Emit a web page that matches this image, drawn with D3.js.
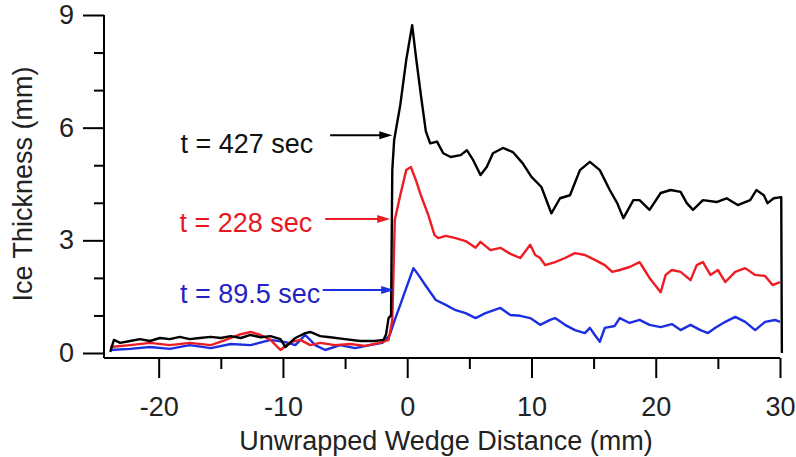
<!DOCTYPE html>
<html lang="en">
<head>
<meta charset="UTF-8">
<script src="https://d3js.org/d3.v7.min.js"></script>
<style>
body { margin: 0; background: #fff; }
text { font-family: "Liberation Sans", Arial, sans-serif; }
.axis path, .axis line { stroke: #000; stroke-width: 2px; }
.axis text { font-size: 27px; fill: #222; }
</style>
</head>
<body>
<div id="chart"></div>
<script>
// wedge distance (mm) and ice thickness (mm)
const blackX = [-23.9,-23.6,-23.1,-22.3,-21.5,-20.7,-19.9,-19.1,-18.3,-17.5,-16.7,-15.8,-15.0,-14.2,-13.4,-12.6,-11.8,-11.0,-10.2,-9.8,-9.0,-8.2,-7.8,-7.0,-6.2,-5.0,-3.8,-2.6,-1.9,-1.7,-1.5,-1.3,-1.2,-1.05,-0.56,-0.08,0.4,0.7,1.1,1.5,1.85,2.4,2.9,3.5,4.3,4.8,5.3,5.9,6.4,6.9,7.7,8.5,9.3,10.0,10.8,11.6,12.3,13.1,13.9,14.7,15.5,16.3,16.9,17.4,18.2,18.7,19.5,20.4,21.2,22.0,22.5,23.0,23.8,24.9,25.7,26.6,27.6,28.1,28.7,29.0,29.5,30.1,30.15];
const blackY = [0.03,0.35,0.27,0.32,0.37,0.32,0.40,0.37,0.43,0.37,0.40,0.43,0.40,0.45,0.40,0.48,0.42,0.45,0.37,0.16,0.40,0.53,0.56,0.45,0.42,0.37,0.32,0.32,0.35,0.50,0.93,1.00,4.87,5.67,6.60,7.80,8.73,7.90,6.87,5.90,5.58,5.63,5.32,5.22,5.27,5.40,5.14,4.74,4.95,5.32,5.46,5.35,5.05,4.69,4.42,3.72,4.12,4.20,4.87,5.09,4.87,4.34,3.99,3.59,4.07,4.07,3.81,4.26,4.34,4.29,3.99,3.81,4.07,4.02,4.12,3.94,4.07,4.34,4.20,3.99,4.12,4.15,0.0];

const redX = [-23.9,-22.3,-20.7,-19.1,-17.5,-15.8,-14.6,-13.4,-12.6,-11.8,-11.0,-10.2,-9.4,-8.6,-7.8,-7.0,-5.8,-4.6,-3.4,-2.2,-1.5,-1.2,-1.1,-1.0,-0.56,-0.08,0.3,0.7,1.1,1.7,2.2,2.5,3.1,3.9,4.7,5.5,5.9,6.7,7.5,8.3,9.1,9.9,10.3,10.7,11.1,11.9,12.7,13.5,14.3,15.1,15.9,16.5,17.1,17.9,18.7,19.1,19.5,20.4,20.8,21.3,22.0,22.8,23.3,23.8,24.4,25.0,25.6,26.4,27.2,28.0,28.8,29.4,30.0];
const redY = [0.16,0.21,0.27,0.21,0.27,0.21,0.35,0.50,0.56,0.48,0.35,0.08,0.29,0.35,0.21,0.27,0.21,0.24,0.19,0.27,0.35,0.88,2.20,3.54,4.20,4.87,4.95,4.60,4.20,3.67,3.14,3.06,3.12,3.06,2.98,2.80,2.96,2.74,2.80,2.64,2.53,2.88,2.61,2.53,2.34,2.42,2.53,2.66,2.61,2.48,2.34,2.16,2.21,2.29,2.42,2.21,2.00,1.62,2.08,2.21,2.16,1.94,2.34,2.42,2.08,2.21,1.89,2.16,2.26,2.08,2.05,1.81,1.89];

const blueX = [-23.9,-22.3,-20.7,-19.1,-17.5,-15.8,-14.2,-12.6,-11.0,-9.8,-9.0,-8.2,-7.4,-6.6,-5.4,-4.2,-3.0,-2.0,-1.4,-1.0,-0.56,-0.08,0.5,0.9,1.45,2.3,3.1,3.9,4.7,5.5,6.3,7.5,8.3,9.1,9.9,10.7,11.5,11.9,12.7,13.5,14.3,14.7,15.1,15.5,15.9,16.7,17.1,17.9,18.7,19.5,20.4,21.3,22.0,22.8,23.6,24.2,24.8,25.6,26.4,27.2,28.0,28.8,29.6,30.0];
const blueY = [0.08,0.11,0.16,0.11,0.21,0.13,0.24,0.21,0.35,0.29,0.21,0.48,0.21,0.08,0.21,0.13,0.21,0.27,0.48,0.88,1.28,1.73,2.26,2.08,1.81,1.41,1.28,1.14,1.06,0.93,1.06,1.20,1.01,0.99,0.93,0.75,0.88,0.93,0.75,0.61,0.53,0.67,0.48,0.30,0.67,0.72,0.93,0.80,0.88,0.75,0.69,0.77,0.61,0.75,0.61,0.53,0.67,0.83,0.96,0.83,0.61,0.83,0.88,0.83];

// labels with arrow: text end x, text y, arrow from x, arrow to x, arrow y
const labelText = ["t = 427 sec", "t = 228 sec", "t = 89.5 sec"];
const labelColor = ["#111111", "#e8161e", "#2323c4"];
const lineColor = ["#000000", "#ee1c24", "#1c2fe0"];
const labelPos = [
  {tx: -7.56, ty: 5.59, ax0: -6.2, ax1: -1.2, ay: 5.80},
  {tx: -7.64, ty: 3.49, ax0: -6.6, ax1: -1.37, ay: 3.57},
  {tx: -7.0,  ty: 1.60, ax0: -6.8, ax1: -1.05, ay: 1.68}
];

const xTicks = [-20, -10, 0, 10, 20, 30];
const xMinor = [-15, -5, 5, 15, 25];
const yTicks = [0, 3, 6, 9];
const yMinor = [1, 2, 4, 5, 7, 8];

const width = 796, height = 457;
const x = d3.scaleLinear().domain([-24.4, 30]).range([104, 780]);
const y = d3.scaleLinear().domain([0, 9]).range([353, 15]);
const axisY0 = 358; // x axis sits a little below zero

const svg = d3.select('#chart').append('svg')
  .attr('width', width)
  .attr('height', height);

// minor ticks first
svg.append('g').attr('class', 'axis')
  .attr('transform', 'translate(0,' + axisY0 + ')')
  .call(d3.axisBottom(x).tickValues(xMinor).tickSize(11).tickFormat(''))
  .call(g => g.select('.domain').remove());
svg.append('g').attr('class', 'axis')
  .attr('transform', 'translate(104,0)')
  .call(d3.axisLeft(y).tickValues(yMinor).tickSize(10).tickFormat(''))
  .call(g => g.select('.domain').remove());

// plain hyphen for negatives, like the original
svg.append('g').attr('class', 'axis')
  .attr('transform', 'translate(0,' + axisY0 + ')')
  .call(d3.axisBottom(x).tickValues(xTicks).tickSize(20).tickPadding(19).tickFormat(d => String(d)))
  .call(g => g.select('.domain').remove());
svg.append('g').attr('class', 'axis')
  .attr('transform', 'translate(104,0)')
  .call(d3.axisLeft(y).tickValues(yTicks).tickSize(21).tickPadding(9).tickFormat(d => String(d)))
  .call(g => g.select('.domain').remove());

// axis lines
svg.append('line')
  .attr('x1', x.range()[0]).attr('x2', x.range()[0])
  .attr('y1', y(9)).attr('y2', axisY0)
  .attr('stroke', '#000').attr('stroke-width', 2);
svg.append('line')
  .attr('x1', x.range()[0]).attr('x2', x.range()[1])
  .attr('y1', axisY0).attr('y2', axisY0)
  .attr('stroke', '#000').attr('stroke-width', 2);

// curves
const line = d3.line().x(d => x(d[0])).y(d => y(d[1]));
const series = [
  d3.zip(blueX, blueY),
  d3.zip(redX, redY),
  d3.zip(blackX, blackY)
];
const seriesColor = [lineColor[2], lineColor[1], lineColor[0]];
series.forEach((s, i) => {
  svg.append('path')
    .datum(s)
    .attr('d', line)
    .attr('fill', 'none')
    .attr('stroke', seriesColor[i])
    .attr('stroke-width', 2.4)
    .attr('stroke-linejoin', 'round');
});

// annotations
labelPos.forEach((p, i) => {
  svg.append('text')
    .attr('x', x(p.tx))
    .attr('y', y(p.ty))
    .attr('dy', '0.36em')
    .attr('text-anchor', 'end')
    .style('font-size', '27px')
    .attr('fill', labelColor[i])
    .text(labelText[i]);
  svg.append('line')
    .attr('x1', x(p.ax0)).attr('x2', x(p.ax1) - 10)
    .attr('y1', y(p.ay)).attr('y2', y(p.ay))
    .attr('stroke', lineColor[i]).attr('stroke-width', 2);
  const hx = x(p.ax1), hy = y(p.ay);
  svg.append('path')
    .attr('d', 'M' + hx + ',' + hy + 'L' + (hx - 13) + ',' + (hy - 4) + 'L' + (hx - 13) + ',' + (hy + 4) + 'Z')
    .attr('fill', lineColor[i]);
});

// axis titles
svg.append('text')
  .attr('x', 446)
  .attr('y', 450)
  .attr('text-anchor', 'middle')
  .style('font-size', '27px')
  .attr('fill', '#222')
  .text('Unwrapped Wedge Distance (mm)');

svg.append('text')
  .attr('transform', 'translate(32,184) rotate(-90)')
  .attr('text-anchor', 'middle')
  .style('font-size', '27px')
  .attr('fill', '#222')
  .text('Ice Thickness (mm)');
</script>
</body>
</html>
